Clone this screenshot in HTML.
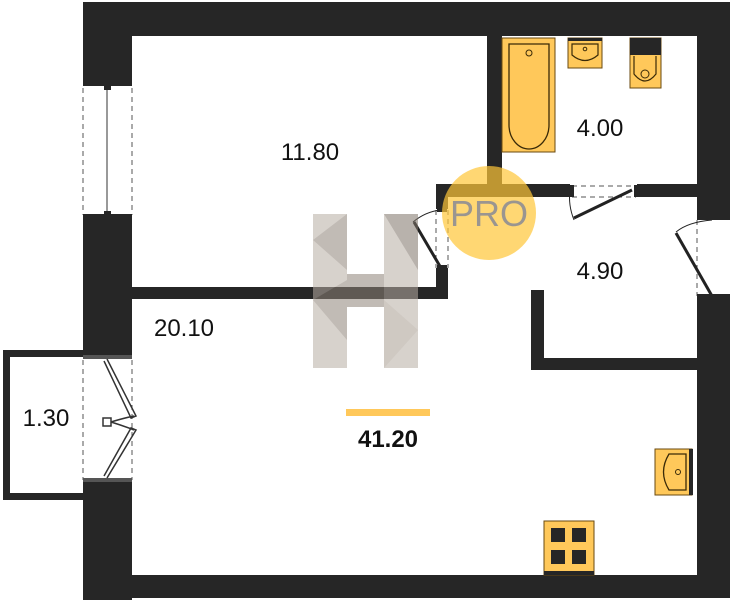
<!DOCTYPE html>
<html><head><meta charset="utf-8"><style>
html,body{margin:0;padding:0;background:#fff;}
svg{display:block;}
text{font-family:"Liberation Sans",sans-serif;}
</style></head><body>
<svg width="732" height="600" viewBox="0 0 732 600" xmlns="http://www.w3.org/2000/svg">
<rect width="732" height="600" fill="#fff"/>
<g fill="#262626">
<rect x="83" y="2" width="647" height="34"/>
<rect x="83" y="2" width="49" height="82"/>
<rect x="83" y="217" width="49" height="138"/>
<rect x="83" y="482" width="49" height="118"/>
<rect x="83" y="575" width="647" height="23"/>
<rect x="697" y="2" width="33" height="215"/>
<rect x="697" y="298" width="33" height="300"/>
<rect x="3" y="350" width="80" height="7"/>
<rect x="3" y="350" width="7" height="150"/>
<rect x="3" y="493" width="80" height="7"/>
<rect x="487" y="36" width="15" height="150"/>
<rect x="436" y="184" width="134" height="13"/>
<rect x="637" y="184" width="60" height="13"/>
<rect x="436" y="184" width="12" height="25"/>
<rect x="436" y="268" width="12" height="31"/>
<rect x="132" y="287" width="316" height="12"/>
<rect x="531" y="290" width="13" height="80"/>
<rect x="531" y="358" width="166" height="12"/>
</g>
<g stroke="#555" stroke-dasharray="5,4" fill="none" stroke-width="1">
<line x1="83" y1="88" x2="83" y2="215"/><line x1="132" y1="88" x2="132" y2="215"/>
<line x1="83" y1="360" x2="83" y2="480"/><line x1="132" y1="360" x2="132" y2="480"/>
<line x1="448" y1="210" x2="448" y2="268"/><line x1="436" y1="210" x2="436" y2="268"/>
<line x1="572" y1="186" x2="636" y2="186"/><line x1="572" y1="197" x2="636" y2="197"/>
<line x1="697" y1="220" x2="697" y2="296"/>
</g>
<rect x="83" y="82" width="49" height="4" fill="#262626"/>
<rect x="83" y="214" width="49" height="4" fill="#262626"/>
<rect x="104" y="84" width="7" height="6" fill="#262626"/>
<rect x="104" y="211" width="7" height="6" fill="#262626"/>
<line x1="107" y1="90" x2="107" y2="211" stroke="#333" stroke-width="1"/>
<rect x="83" y="355" width="49" height="4" fill="#555"/>
<rect x="83" y="478" width="49" height="4" fill="#555"/>
<g stroke="#333" fill="none" stroke-width="1.5">
<path d="M107 359 L136 416 L131 418 L104 361"/>
<path d="M107 478 L136 430 L131 428 L104 476"/>
<rect x="103" y="418" width="8" height="8" fill="#fff"/>
<path d="M111 422 Q124 418 134 416 M111 422 Q124 426 134 430"/>
</g>
<g stroke="#222" fill="none">
<line x1="441" y1="268" x2="414" y2="222" stroke-width="3"/>
<path d="M413 222 Q425 212 440 210" stroke-width="1"/>
<line x1="574" y1="218" x2="632" y2="190" stroke-width="3"/>
<path d="M574 220 Q568 205 570 190" stroke-width="1"/>
<line x1="712" y1="296" x2="676" y2="233" stroke-width="3"/>
<path d="M676 232 Q688 222 712 220" stroke-width="1"/>
</g>
<rect x="437" y="204" width="10" height="8" fill="#262626"/>
<rect x="437" y="265" width="10" height="6" fill="#262626"/>
<rect x="569" y="185" width="5" height="12" fill="#262626"/>
<rect x="634" y="185" width="5" height="12" fill="#262626"/>
<rect x="697" y="216" width="33" height="4" fill="#262626"/>
<rect x="697" y="294" width="33" height="4" fill="#262626"/>
<rect x="502" y="38" width="53" height="114" fill="#ffc85a" stroke="#6a4a10" stroke-width="1"/>
<path d="M509 44 H549 V125 A20 24 0 0 1 509 125 Z" fill="none" stroke="#3a2a08" stroke-width="1.3"/>
<circle cx="529" cy="53" r="3" fill="none" stroke="#3a2a08"/>
<rect x="568" y="38" width="34" height="30" fill="#ffc85a" stroke="#6a4a10"/>
<rect x="568" y="38" width="34" height="3" fill="#262626"/>
<path d="M572 44 H598 V55 Q585 66 572 55 Z" fill="none" stroke="#3a2a08" stroke-width="1.2"/>
<circle cx="585" cy="49" r="1.8" fill="none" stroke="#3a2a08"/>
<rect x="630" y="38" width="31" height="50" fill="#ffc85a" stroke="#6a4a10"/>
<rect x="630" y="38" width="31" height="17" fill="#262626"/>
<path d="M634 56 V74 Q645 88 656 74 V56" fill="none" stroke="#3a2a08" stroke-width="1.2"/>
<circle cx="645" cy="74" r="4" fill="none" stroke="#3a2a08"/>
<rect x="655" y="449" width="37" height="46" fill="#ffc85a" stroke="#6a4a10"/>
<rect x="689" y="449" width="4" height="46" fill="#262626"/>
<path d="M686 454 H669 Q658 472 669 490 H686 Z" fill="none" stroke="#3a2a08" stroke-width="1.3"/>
<circle cx="678" cy="472" r="2.5" fill="none" stroke="#3a2a08"/>
<rect x="544" y="521" width="50" height="54" fill="#ffc85a" stroke="#6a4a10"/>
<rect x="544" y="571" width="50" height="4" fill="#262626"/>
<rect x="551" y="528" width="14" height="14" fill="#262626"/>
<rect x="572" y="528" width="14" height="14" fill="#262626"/>
<rect x="551" y="550" width="14" height="14" fill="#262626"/>
<rect x="572" y="550" width="14" height="14" fill="#262626"/>
<g opacity="0.55">
<rect x="313" y="214" width="34" height="154" fill="#b8aea4"/>
<rect x="384" y="214" width="34" height="154" fill="#b8aea4"/>
<rect x="347" y="274" width="37" height="33" fill="#8f8479"/>
<polygon points="313,240 347,214 347,270" fill="#8f8479"/>
<polygon points="384,214 418,214 418,270" fill="#7f7469"/>
<polygon points="313,300 347,280 347,340" fill="#8f8479"/>
<polygon points="384,300 418,330 384,368" fill="#a89d92"/>
</g>
<circle cx="489" cy="213" r="47" fill="#ffc638" opacity="0.7"/>
<text x="489" y="226" font-size="36" text-anchor="middle" fill="#9a9590">PRO</text>
<g font-size="24" fill="#111">
<text x="310" y="160" text-anchor="middle">11.80</text>
<text x="600" y="136" text-anchor="middle">4.00</text>
<text x="600" y="279" text-anchor="middle">4.90</text>
<text x="184" y="336" text-anchor="middle">20.10</text>
<text x="46" y="426" text-anchor="middle">1.30</text>
</g>
<rect x="346" y="409" width="84" height="7" fill="#ffc85a"/>
<text x="388" y="447" font-size="24" font-weight="bold" text-anchor="middle" fill="#111">41.20</text>
</svg>
</body></html>
